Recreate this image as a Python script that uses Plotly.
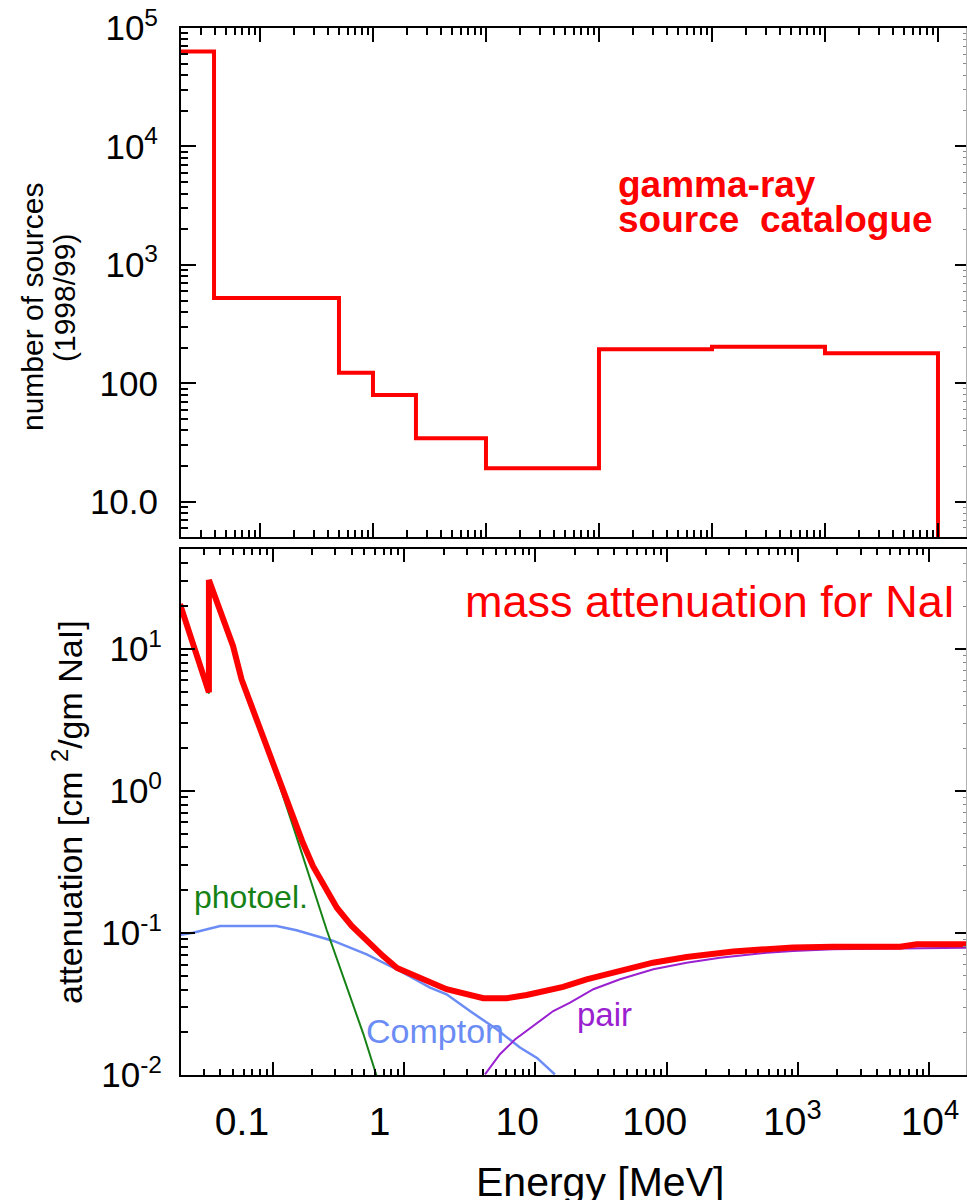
import plotly.graph_objects as go

# ---------------- data ----------------
# top panel: gamma-ray source catalogue histogram (energy bin edges in MeV, counts)
cat_edges = [1.88e-4, 3.92e-4, 5.0e-3, 1.0e-2, 2.4e-2, 0.1, 1.0, 10.0, 100.0, 1000.0]
cat_counts = [63400, 524, 123, 79.8, 34.4, 19.2, 194, 203, 179.5]
cat_floor = 1.0  # line drops out of the plot after the last bin

# bottom panel: mass attenuation for NaI (energy MeV, cm^2/g)
tot_E = [0.0197, 0.0327, 0.0327, 0.0499, 0.058, 0.11, 0.143, 0.17, 0.203, 0.25, 0.309,
         0.40, 0.523, 0.69, 0.885, 1.32, 1.58, 2.11, 4.02, 6.05, 8.6, 11.5, 16.3, 24.6,
         44.2, 78.7, 142, 255, 322, 578, 918, 1850, 6000, 8040, 19300]
tot_mu = [20.7, 4.95, 30.6, 10.5, 6.1, 1.27, 0.64, 0.43, 0.295, 0.208, 0.150,
          0.112, 0.088, 0.069, 0.0567, 0.0484, 0.0445, 0.0402, 0.0347, 0.0347, 0.0366,
          0.0386, 0.0417, 0.0472, 0.054, 0.0618, 0.0678, 0.0727, 0.074, 0.0769, 0.079,
          0.080, 0.080, 0.0834, 0.0834]

photo_E = [0.0197, 0.0327, 0.0327, 0.0499, 0.058, 0.11, 0.143, 0.203, 0.258, 0.49, 0.62]
photo_mu = [20.6, 4.85, 30.5, 10.4, 6.0, 1.17, 0.565, 0.21, 0.105, 0.0195, 0.0098]

compton_E = [0.0197, 0.0248, 0.0398, 0.107, 0.152, 0.29, 0.52, 0.93, 1.58, 2.11, 3.18,
             5.08, 7.64, 10.3, 14.1]
compton_mu = [0.0968, 0.1005, 0.112, 0.112, 0.1045, 0.0879, 0.0708, 0.054, 0.0412, 0.037,
              0.0282, 0.021, 0.0156, 0.0132, 0.0101]

pair_E = [4.14, 5.38, 7.0, 9.66, 13.7, 18.4, 27.7, 44.2, 79.3, 142, 255, 578, 918, 1850,
          6000, 19300]
pair_mu = [0.0101, 0.0140, 0.0178, 0.0221, 0.0282, 0.0323, 0.0402, 0.0472, 0.0555, 0.0618,
           0.0670, 0.0727, 0.0747, 0.0768, 0.078, 0.0787]

x_tickvals = [0.1, 1, 10, 100, 1e3, 1e4]
x_ticktext = ["0.1", "1", "10", "100", "10<sup>3</sup>", "10<sup>4</sup>"]
top_y_tickvals = [10, 100, 1e3, 1e4, 1e5]
top_y_ticktext = ["10.0", "100", "10<sup>3</sup>", "10<sup>4</sup>", "10<sup>5</sup>"]
bot_y_tickvals = [0.01, 0.1, 1, 10]
bot_y_ticktext = ["10<sup>-2</sup>", "10<sup>-1</sup>", "10<sup>0</sup>", "10<sup>1</sup>"]

# ---------------- layout helpers ----------------
W, H = 967, 1200
L, R, T, B = 181, 966, 28, 1075


def px2x(px):
    return (px - L) / (R - L)


def py2y(py):
    return (B - py) / (B - T)


RED = "#ff0000"
GREEN = "#168216"
BLUE = "#6b8cf5"
PURPLE = "#9a20d0"
FONT = "Liberation Sans, Arial, Helvetica, sans-serif"


def minor_vals(k0, k1):
    return [m * 10.0 ** k for k in range(k0, k1) for m in range(2, 10)]


fig = go.Figure()

# top panel histogram
fig.add_trace(go.Scatter(x=cat_edges, y=cat_counts + [cat_floor], mode="lines",
                         line=dict(color=RED, width=4, shape="hv"),
                         xaxis="x", yaxis="y", showlegend=False))

# bottom panel curves
fig.add_trace(go.Scatter(x=compton_E, y=compton_mu, mode="lines",
                         line=dict(color=BLUE, width=2.5), xaxis="x2", yaxis="y2", showlegend=False))
fig.add_trace(go.Scatter(x=photo_E, y=photo_mu, mode="lines",
                         line=dict(color=GREEN, width=2), xaxis="x2", yaxis="y2", showlegend=False))
fig.add_trace(go.Scatter(x=pair_E, y=pair_mu, mode="lines",
                         line=dict(color=PURPLE, width=2), xaxis="x2", yaxis="y2", showlegend=False))
fig.add_trace(go.Scatter(x=tot_E, y=tot_mu, mode="lines",
                         line=dict(color=RED, width=6), xaxis="x2", yaxis="y2", showlegend=False))

# empty traces so the overlaying helper axes (right-side ticks, label axis) are drawn
for xa, ya in [("x", "y3"), ("x3", "y2"), ("x2", "y4")]:
    fig.add_trace(go.Scatter(x=[], y=[], mode="lines", xaxis=xa, yaxis=ya,
                             showlegend=False, hoverinfo="skip"))

top_dom = [py2y(537), 1.0]
bot_dom = [0.0, py2y(549)]

common_axis = dict(type="log", showline=True, linecolor="black", linewidth=2,
                   ticks="inside", tickwidth=2, tickcolor="black", showgrid=False,
                   zeroline=False, tickmode="array")

fig.update_layout(
    width=W, height=H,
    margin=dict(l=L, r=W - R, t=T, b=H - B),
    paper_bgcolor="white", plot_bgcolor="white",
    font=dict(family=FONT, color="black"),
    xaxis=dict(common_axis, domain=[0, 1], anchor="y", range=[-3.699, 3.248],
               tickvals=[1e-3, 1e-2, 0.1, 1, 10, 100, 1000], showticklabels=False,
               ticklen=14, mirror="ticks",
               minor=dict(ticks="inside", ticklen=7, tickwidth=2, tickcolor="black",
                          tickmode="array", tickvals=minor_vals(-4, 4))),
    yaxis=dict(common_axis, domain=top_dom, anchor="x", range=[0.702, 5.0],
               tickvals=top_y_tickvals, ticktext=top_y_ticktext, ticklen=15,
               tickfont=dict(size=35, family=FONT), ticklabelstandoff=14,
               minor=dict(ticks="inside", ticklen=7, tickwidth=2, tickcolor="black",
                          tickmode="array", tickvals=minor_vals(0, 5))),
    yaxis3=dict(type="log", overlaying="y", anchor="x", side="right", range=[0.702, 5.0],
                showline=True, linecolor="#b0b0b0", linewidth=1, showgrid=False, zeroline=False,
                ticks="inside", ticklen=11, tickwidth=2, tickcolor="black",
                tickmode="array", tickvals=top_y_tickvals, showticklabels=False,
                minor=dict(ticks="inside", ticklen=3, tickwidth=1, tickcolor="#888888",
                           tickmode="array", tickvals=minor_vals(0, 5))),
    # bottom panel energy axis: ticks only
    xaxis2=dict(common_axis, domain=[0, 1], anchor="y2", range=[-1.698, 4.280],
                tickvals=x_tickvals, showticklabels=False, ticklen=13, mirror="ticks",
                minor=dict(ticks="inside", ticklen=6, tickwidth=2, tickcolor="black",
                           tickmode="array", tickvals=minor_vals(-2, 5))),
    # label axis (labels in the reference sit on a slightly wider decade spacing)
    xaxis3=dict(type="log", overlaying="x2", anchor="y2", side="bottom", range=[-1.443, 4.262],
                showline=False, showgrid=False, zeroline=False, ticks="",
                tickmode="array", tickvals=x_tickvals, ticktext=x_ticktext,
                tickfont=dict(size=39, family=FONT), ticklabelstandoff=20),
    yaxis2=dict(common_axis, domain=bot_dom, anchor="x2", range=[-2.0, 1.704],
                tickvals=bot_y_tickvals, ticktext=bot_y_ticktext, ticklen=14,
                tickfont=dict(size=35, family=FONT), ticklabelstandoff=10,
                minor=dict(ticks="inside", ticklen=7, tickwidth=2, tickcolor="black",
                           tickmode="array", tickvals=minor_vals(-2, 2))),
    yaxis4=dict(type="log", overlaying="y2", anchor="x2", side="right", range=[-2.0, 1.704],
                showline=True, linecolor="#b0b0b0", linewidth=1, showgrid=False, zeroline=False,
                ticks="inside", ticklen=11, tickwidth=2, tickcolor="black",
                tickmode="array", tickvals=bot_y_tickvals, showticklabels=False,
                minor=dict(ticks="inside", ticklen=3, tickwidth=1, tickcolor="#888888",
                           tickmode="array", tickvals=minor_vals(-2, 2))),
)

ann = []


def add_text(text, px, py, size, color, xanchor="left", angle=0, bold=False):
    t = f"<b>{text}</b>" if bold else text
    ann.append(dict(text=t, x=px2x(px), y=py2y(py), xref="paper", yref="paper",
                    xanchor=xanchor, yanchor="middle", showarrow=False, textangle=angle,
                    font=dict(size=size, color=color, family=FONT)))


add_text("gamma-ray", 616, 184, 37, RED, bold=True)
add_text("source\u00a0\u00a0catalogue", 616, 219, 37, RED, bold=True)
add_text("mass attenuation for NaI", 957, 601, 45, RED, xanchor="right")
add_text("photoel.", 192, 897, 32, GREEN)
add_text("Compton", 364, 1031, 34, BLUE)
add_text("pair", 575, 1014, 33, PURPLE)

# axis titles
add_text("number of sources", 32, 307, 30, "black", xanchor="center", angle=-90)
add_text("(1998/99)", 64, 298, 30, "black", xanchor="center", angle=-90)
add_text("attenuation [cm <sup>2</sup>/gm NaI]", 67, 812, 34, "black", xanchor="center", angle=-90)
add_text("Energy [MeV]", 600, 1182, 41, "black", xanchor="center")

fig.update_layout(annotations=ann)

fig.write_html("out.html")
